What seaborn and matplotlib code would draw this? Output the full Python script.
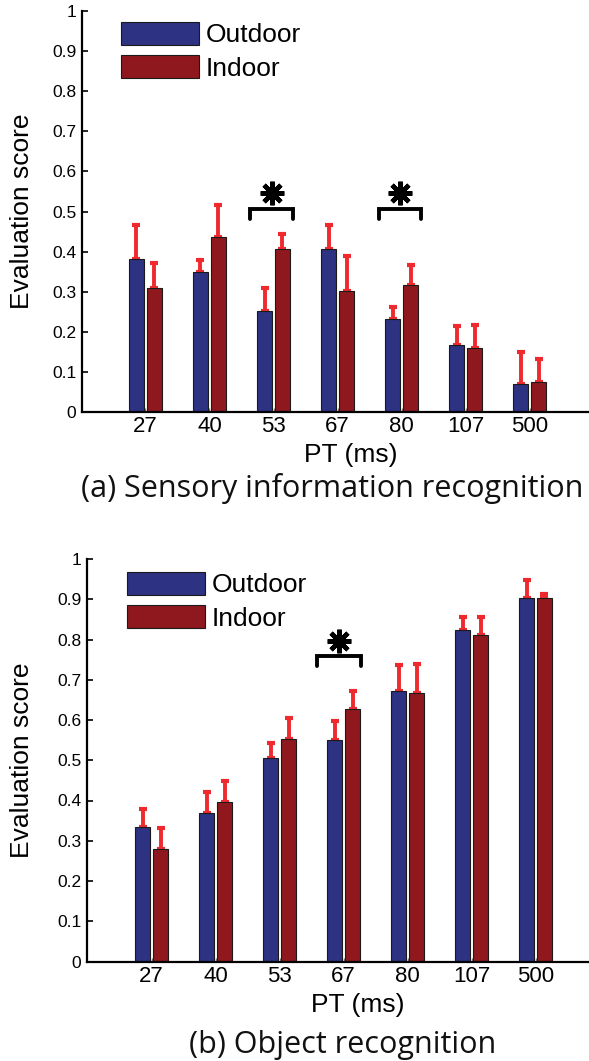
import numpy as np
import pandas as pd
import matplotlib
matplotlib.use("Agg")
import matplotlib.pyplot as plt
from matplotlib.patches import Patch
import seaborn as sns

# ---------------- data ----------------
pt_labels = ["27", "40", "53", "67", "80", "107", "500"]
conditions = ["Outdoor", "Indoor"]

sensory_outdoor = [0.381, 0.348, 0.253, 0.406, 0.231, 0.167, 0.070]
sensory_indoor = [0.310, 0.436, 0.406, 0.302, 0.317, 0.160, 0.076]
sensory_outdoor_err = [0.085, 0.031, 0.056, 0.060, 0.031, 0.047, 0.080]
sensory_indoor_err = [0.062, 0.080, 0.038, 0.087, 0.049, 0.057, 0.056]
sensory_significant = ["53", "80"]

object_outdoor = [0.334, 0.370, 0.505, 0.550, 0.673, 0.824, 0.903]
object_indoor = [0.280, 0.397, 0.553, 0.627, 0.667, 0.810, 0.904]
object_outdoor_err = [0.044, 0.050, 0.038, 0.048, 0.063, 0.033, 0.045]
object_indoor_err = [0.052, 0.052, 0.053, 0.044, 0.071, 0.045, 0.010]
object_significant = ["67"]

y_ticks = [0, 0.1, 0.2, 0.3, 0.4, 0.5, 0.6, 0.7, 0.8, 0.9, 1]
y_tick_labels = ["0", "0.1", "0.2", "0.3", "0.4", "0.5", "0.6", "0.7", "0.8", "0.9", "1"]

caption_a = "(a) Sensory information recognition"
caption_b = "(b) Object recognition"

# ---------------- style ----------------
sns.set_theme(style="white")
plt.rcParams["font.family"] = ["Liberation Sans", "DejaVu Sans"]

BLUE = "#2E3282"
RED = "#8E181D"
ERR = "#EE2A2E"
palette = {"Outdoor": BLUE, "Indoor": RED}

W, H = 589, 1061
fig = plt.figure(figsize=(W / 100, H / 100), dpi=100)


def px_axes(left, right, bottom, top):
    return fig.add_axes([left / W, 1 - bottom / H, (right - left) / W, (bottom - top) / H])


def panel(ax, outdoor, indoor, out_err, in_err, significant, sig_cfg, xlim,
          legend_anchor, xlabel_pos, ylabel_x):
    df = pd.DataFrame({
        "PT": pt_labels * 2,
        "Condition": [conditions[0]] * len(pt_labels) + [conditions[1]] * len(pt_labels),
        "Score": list(outdoor) + list(indoor),
    })
    sns.barplot(data=df, x="PT", y="Score", hue="Condition", order=pt_labels,
                hue_order=conditions, palette=palette, saturation=1, errorbar=None,
                width=0.56, gap=0.16, edgecolor="#1a1a1a", linewidth=0.8,
                legend=False, ax=ax, zorder=2)
    # one-sided error bars
    for cont, vals, errs in zip(ax.containers, [outdoor, indoor], [out_err, in_err]):
        xs = [b.get_x() + b.get_width() / 2 for b in cont]
        ax.errorbar(xs, vals, yerr=[np.zeros(len(errs)), errs], fmt="none",
                    ecolor=ERR, elinewidth=2.8, capsize=2.7, capthick=3.0, zorder=1.5)
    # significance brackets
    x0, x1, ytop, yleg, xa, ya = sig_cfg
    for lab in significant:
        c = pt_labels.index(lab)
        ax.plot([c + x0, c + x0, c + x1, c + x1], [yleg, ytop, ytop, yleg],
                color="black", lw=2.8, solid_joinstyle="miter", zorder=3)
        ax.plot([c + xa], [ya], marker=(8, 2, 0), markersize=17,
                markeredgewidth=3.3, color="black", zorder=3)

    ax.set_xlim(*xlim)
    ax.set_ylim(0, 1)
    ax.set_yticks(y_ticks)
    ax.set_yticklabels(y_tick_labels)
    ax.tick_params(axis="y", direction="in", length=4, width=1.2, pad=4,
                   labelsize=12.5, labelcolor="black", color="black", left=True)
    ax.tick_params(axis="x", direction="in", length=3, width=1, pad=3,
                   labelsize=16, labelcolor="black", color="#777777", bottom=True)
    for s in ["top", "right"]:
        ax.spines[s].set_visible(False)
    for s in ["left", "bottom"]:
        ax.spines[s].set_color("black")
        ax.spines[s].set_linewidth(1.6)
    ax.set_ylabel("Evaluation score", fontsize=19, color="black")
    ax.yaxis.label.set_va("center")
    ax.yaxis.set_label_coords(ylabel_x, 0.5)
    ax.set_xlabel("PT (ms)", fontsize=19, color="black")
    ax.xaxis.label.set_va("center")
    ax.xaxis.set_label_coords(*xlabel_pos)
    handles = [Patch(facecolor=palette[c], edgecolor="#1a1a1a", linewidth=0.8, label=c)
               for c in conditions]
    leg = ax.legend(handles=handles, loc="upper left", bbox_to_anchor=legend_anchor,
                    frameon=False, fontsize=19, handlelength=2.95, handleheight=0.95,
                    handletextpad=0.25, labelspacing=0.3, borderpad=0, borderaxespad=0)
    for t in leg.get_texts():
        t.set_color("black")


ax1 = px_axes(82, 588, 412, 11)
panel(ax1, sensory_outdoor, sensory_indoor, sensory_outdoor_err, sensory_indoor_err,
      sensory_significant, (-0.36, 0.31, 0.507, 0.482, -0.02, 0.546), (-0.99, 6.91),
      ((121 - 82) / 506, 1 - (22 - 11) / 401), ((350.5 - 82) / 506, -43 / 401),
      (22 - 82) / 506)

ax2 = px_axes(87, 588, 961.5, 559)
panel(ax2, object_outdoor, object_indoor, object_outdoor_err, object_indoor_err,
      object_significant, (-0.41, 0.28, 0.759, 0.734, -0.07, 0.797), (-1.01, 6.82),
      ((127 - 87) / 501, 1 - (572 - 559) / 402.5), ((357.5 - 87) / 501, -43.5 / 402.5),
      (22 - 87) / 501)

fig.text(332.5 / W, 1 - 488 / H, caption_a, family="Open Sans", fontsize=22,
         ha="center", va="center", color="#111111")
fig.text(342.5 / W, 1 - 1045 / H, caption_b, family="Open Sans", fontsize=22,
         ha="center", va="center", color="#111111")

fig.savefig("out.png", dpi=100)
